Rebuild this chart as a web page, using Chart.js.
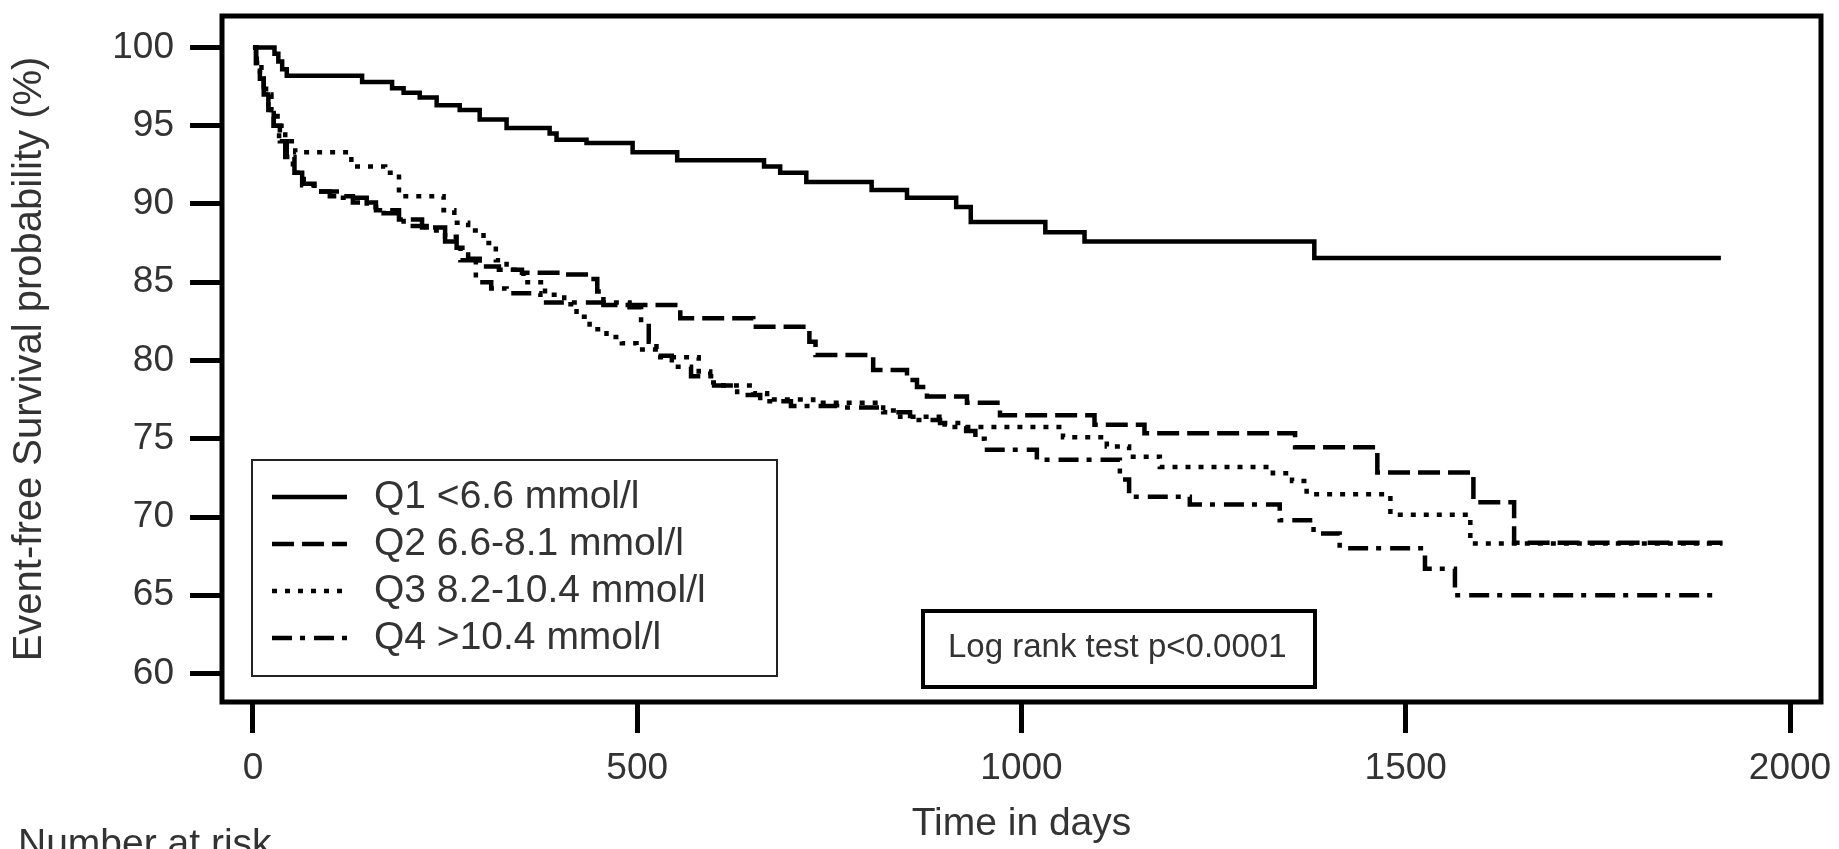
<!DOCTYPE html>
<html lang="en">
<head>
<meta charset="UTF-8">
<title>Event-free survival by quartile</title>
<script src="https://cdn.jsdelivr.net/npm/chart.js"></script>
<style>
  html, body { margin: 0; padding: 0; background: #fff; }
  #km { display: block; }
</style>
</head>
<body>
<canvas id="km" width="1839" height="849"></canvas>
<script>
// Kaplan-Meier steps (day, event-free survival %)
const q1Days = [0, 28, 33, 38, 44, 142, 181, 196, 217, 239, 269, 295, 330, 386, 395, 434, 494, 552, 665, 686, 720, 805, 851, 915, 934, 1031, 1082, 1381, 1910];
const q1Surv = [100, 99.6, 99.1, 98.6, 98.2, 97.8, 97.4, 97.1, 96.8, 96.3, 96.0, 95.4, 94.85, 94.5, 94.1, 93.9, 93.3, 92.8, 92.4, 92.0, 91.4, 90.9, 90.4, 89.8, 88.85, 88.2, 87.6, 86.55, 86.55];

const q2Days = [0, 4, 9, 14, 20, 27, 35, 44, 54, 66, 80, 100, 130, 160, 190, 220, 250, 265, 280, 295, 320, 350, 400, 440, 448, 456, 556, 651, 724, 732, 807, 851, 864, 877, 929, 972, 1095, 1160, 1356, 1463, 1588, 1641, 1912];
const q2Surv = [100, 99, 98, 97, 96, 95, 94, 93, 92, 91.3, 90.8, 90.5, 90.1, 89.6, 89.0, 88.5, 87.9, 87.2, 86.5, 86.0, 85.8, 85.6, 85.5, 85.2, 84.4, 83.55, 82.7, 82.15, 81.2, 80.35, 79.4, 78.75, 78.3, 77.7, 77.3, 76.5, 75.9, 75.35, 74.45, 72.85, 70.95, 68.35, 68.35];

const q3Days = [0, 5, 11, 17, 24, 32, 42, 55, 128, 172, 190, 248, 262, 280, 300, 316, 330, 352, 380, 405, 421, 438, 460, 480, 499, 530, 580, 595, 612, 651, 669, 729, 820, 842, 900, 1054, 1111, 1140, 1180, 1327, 1352, 1371, 1480, 1584, 1912];
const q3Surv = [100, 99, 98, 97, 96, 95, 94, 93.3, 92.4, 92.0, 90.5, 89.6, 88.8, 88.3, 87.5, 86.4, 85.8, 85.0, 84.2, 83.6, 82.8, 82.0, 81.5, 81.1, 80.7, 80.2, 79.3, 78.6, 78.4, 77.9, 77.5, 77.3, 76.8, 76.4, 75.75, 75.1, 74.5, 73.85, 73.2, 72.8, 72.3, 71.45, 70.15, 68.3, 68.3];

const q4Days = [0, 4, 9, 14, 20, 27, 34, 42, 52, 64, 83, 113, 148, 170, 196, 226, 250, 270, 290, 310, 330, 374, 490, 505, 515, 525, 545, 570, 600, 630, 660, 700, 760, 820, 855, 894, 928, 940, 952, 1020, 1128, 1140, 1219, 1336, 1380, 1414, 1525, 1564, 1900];
const q4Surv = [100, 99, 98, 97, 96, 95, 94, 93, 92, 91.2, 90.8, 90.4, 89.8, 89.4, 88.6, 88.3, 87.6, 86.4, 85.0, 84.6, 84.3, 83.7, 83.4, 82.4, 81.2, 80.3, 79.6, 79.0, 78.4, 77.8, 77.4, 77.1, 77.0, 76.7, 76.2, 76.0, 75.5, 75.0, 74.3, 73.65, 72.4, 71.3, 70.8, 69.8, 68.95, 68.0, 66.7, 65.0, 65.0];

const seriesLabels = ["Q1 <6.6 mmol/l", "Q2 6.6-8.1 mmol/l", "Q3 8.2-10.4 mmol/l", "Q4 >10.4 mmol/l"];
const xTickValues = [0, 500, 1000, 1500, 2000];
const yTickValues = [60, 65, 70, 75, 80, 85, 90, 95, 100];
const xTitle = "Time in days";
const yTitle = "Event-free Survival probability (%)";
const logRankText = "Log rank test p<0.0001";
const riskTitle = "Number at risk";

const textColor = "#333";
Chart.defaults.font.family = "'Liberation Sans', Arial, Helvetica, sans-serif";

function toPoints(days, surv) {
    return days.map((d, i) => ({ x: d, y: surv[i] }));
}

function makeSet(label, days, surv, dash) {
    return {
        label: label,
        data: toPoints(days, surv),
        borderColor: "#000",
        borderWidth: 4.5,
        borderDash: dash,
        stepped: true,
        fill: false,
        pointRadius: 0,
        borderCapStyle: "butt",
        borderJoinStyle: "miter"
    };
}

// frame, inset legend, log rank note and the "Number at risk" caption
const framePlugin = {
    id: "frameAndNotes",
    afterDraw(chart) {
        const ctx = chart.ctx;
        const a = chart.chartArea;
        ctx.save();

        ctx.strokeStyle = "#000";
        ctx.lineWidth = 5;
        ctx.strokeRect(a.left, a.top, a.right - a.left, a.bottom - a.top);

        // legend box
        ctx.fillStyle = "#fff";
        ctx.fillRect(252, 460, 525, 216);
        ctx.lineWidth = 2;
        ctx.strokeStyle = "#222";
        ctx.strokeRect(252, 460, 525, 216);

        ctx.font = "39px 'Liberation Sans', Arial, sans-serif";
        ctx.textBaseline = "middle";
        ctx.textAlign = "left";
        chart.data.datasets.forEach((ds, i) => {
            const y = 497 + i * 47;
            ctx.strokeStyle = "#000";
            ctx.lineWidth = ds.borderWidth;
            ctx.setLineDash(ds.borderDash || []);
            ctx.beginPath();
            ctx.moveTo(272, y);
            ctx.lineTo(347, y);
            ctx.stroke();
            ctx.setLineDash([]);
            ctx.fillStyle = textColor;
            ctx.fillText(ds.label, 374, y);
        });

        // log rank box
        ctx.fillStyle = "#fff";
        ctx.fillRect(923, 611, 392, 76);
        ctx.lineWidth = 4;
        ctx.strokeStyle = "#000";
        ctx.strokeRect(923, 611, 392, 76);
        ctx.font = "33px 'Liberation Sans', Arial, sans-serif";
        ctx.fillStyle = textColor;
        ctx.fillText(logRankText, 948, 648);

        // number at risk caption (cut by the bottom edge, as in the figure)
        ctx.font = "39px 'Liberation Sans', Arial, sans-serif";
        ctx.textBaseline = "alphabetic";
        ctx.fillText(riskTitle, 18, 856);

        ctx.restore();
    }
};

new Chart(document.getElementById("km"), {
    type: "line",
    data: {
        datasets: [
            makeSet(seriesLabels[0], q1Days, q1Surv, []),
            makeSet(seriesLabels[1], q2Days, q2Surv, [22, 8]),
            makeSet(seriesLabels[2], q3Days, q3Surv, [5, 8]),
            makeSet(seriesLabels[3], q4Days, q4Surv, [20, 8, 5, 9])
        ]
    },
    options: {
        responsive: false,
        animation: false,
        layout: { padding: { top: 16, right: 18, bottom: 0, left: 0 } },
        plugins: {
            legend: { display: false },
            tooltip: { enabled: false }
        },
        scales: {
            x: {
                type: "linear",
                min: -40.3,
                max: 2040.3,
                afterBuildTicks: s => { s.ticks = xTickValues.map(v => ({ value: v })); },
                afterFit: s => { s.height = 147; s.paddingLeft = 0; s.paddingRight = 0; },
                border: { display: false },
                grid: { drawOnChartArea: false, drawTicks: true, tickLength: 31, tickWidth: 5, tickColor: "#000" },
                ticks: { padding: 14, color: textColor, font: { size: 37 }, maxRotation: 0, autoSkip: false, callback: v => String(v) },
                title: { display: true, text: xTitle, color: textColor, font: { size: 39 }, padding: { top: 0, bottom: 1 } }
            },
            y: {
                type: "linear",
                min: 58.18,
                max: 102.01,
                afterBuildTicks: s => { s.ticks = yTickValues.map(v => ({ value: v })); },
                afterFit: s => { s.width = 222; s.paddingTop = 0; s.paddingBottom = 0; },
                border: { display: false },
                grid: { drawOnChartArea: false, drawTicks: true, tickLength: 32, tickWidth: 5, tickColor: "#000" },
                ticks: { padding: 16, color: textColor, font: { size: 37 }, autoSkip: false, callback: v => String(v) },
                title: { display: true, text: yTitle, color: textColor, font: { size: 40 }, padding: { top: 6, bottom: 0 } }
            }
        }
    },
    plugins: [framePlugin]
});
</script>
</body>
</html>
